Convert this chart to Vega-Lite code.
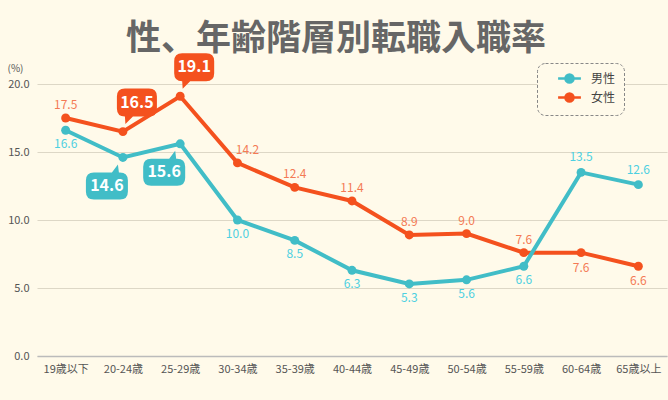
{
  "$schema": "https://vega.github.io/schema/vega-lite/v6.json",
  "width": 630,
  "height": 272,
  "autosize": {"type": "none"},
  "padding": {"left": 37, "top": 84, "right": 1, "bottom": 44},
  "background": "#fffaea",
  "title": {
    "text": "性、年齢階層別転職入職率",
    "anchor": "middle",
    "dx": -16,
    "offset": -4,
    "fontSize": 35,
    "fontWeight": "bold",
    "color": "#666666",
    "font": "Noto Sans CJK JP"
  },
  "config": {
    "font": "Noto Sans CJK JP",
    "view": {"stroke": null}
  },
  "data": {
    "values": [
      {"age": "19歳以下", "sex": "女性", "value": 17.5},
      {"age": "20-24歳", "sex": "女性", "value": 16.5},
      {"age": "25-29歳", "sex": "女性", "value": 19.1},
      {"age": "30-34歳", "sex": "女性", "value": 14.2},
      {"age": "35-39歳", "sex": "女性", "value": 12.4},
      {"age": "40-44歳", "sex": "女性", "value": 11.4},
      {"age": "45-49歳", "sex": "女性", "value": 8.9},
      {"age": "50-54歳", "sex": "女性", "value": 9.0},
      {"age": "55-59歳", "sex": "女性", "value": 7.6},
      {"age": "60-64歳", "sex": "女性", "value": 7.6},
      {"age": "65歳以上", "sex": "女性", "value": 6.6},
      {"age": "19歳以下", "sex": "男性", "value": 16.6},
      {"age": "20-24歳", "sex": "男性", "value": 14.6},
      {"age": "25-29歳", "sex": "男性", "value": 15.6},
      {"age": "30-34歳", "sex": "男性", "value": 10.0},
      {"age": "35-39歳", "sex": "男性", "value": 8.5},
      {"age": "40-44歳", "sex": "男性", "value": 6.3},
      {"age": "45-49歳", "sex": "男性", "value": 5.3},
      {"age": "50-54歳", "sex": "男性", "value": 5.6},
      {"age": "55-59歳", "sex": "男性", "value": 6.6},
      {"age": "60-64歳", "sex": "男性", "value": 13.5},
      {"age": "65歳以上", "sex": "男性", "value": 12.6}
    ]
  },
  "encoding": {
    "x": {
      "field": "age",
      "type": "nominal",
      "sort": null,
      "scale": {"type": "point", "padding": 0.5, "domain": ["19歳以下", "20-24歳", "25-29歳", "30-34歳", "35-39歳", "40-44歳", "45-49歳", "50-54歳", "55-59歳", "60-64歳", "65歳以上"]},
      "axis": {
        "title": null,
        "labelAngle": 0,
        "ticks": false,
        "grid": false,
        "domainColor": "#bbbbbb",
        "domainWidth": 1.5,
        "labelFontSize": 11,
        "labelColor": "#555555",
        "labelPadding": 7
      }
    },
    "y": {
      "field": "value",
      "type": "quantitative",
      "scale": {"domain": [0, 20], "nice": false},
      "axis": {
        "title": "(%)",
        "titleAngle": 0,
        "titleX": -30,
        "titleY": -16,
        "titleAlign": "left",
        "titleBaseline": "middle",
        "titleFontSize": 10,
        "titleFontWeight": "normal",
        "titleColor": "#555555",
        "values": [0, 5, 10, 15, 20],
        "format": ".1f",
        "labelFontSize": 11,
        "labelColor": "#555555",
        "labelPadding": 8,
        "ticks": false,
        "domain": false,
        "gridColor": "#ddd7c6",
        "gridWidth": 1
      }
    }
  },
  "layer": [
    {
      "encoding": {
        "color": {
          "field": "sex",
          "type": "nominal",
          "scale": {"domain": ["男性", "女性"], "range": ["#41bdc7", "#f4511e"]},
          "legend": {
            "orient": "none",
            "legendX": 500,
            "legendY": -21,
            "title": null,
            "symbolType": "M -1.9 0 L -0.67 0 A 0.67 0.67 0 1 1 0.67 0 L 1.9 0 M 0.67 0 A 0.67 0.67 0 1 1 -0.67 0",
            "symbolSize": 144,
            "symbolStrokeWidth": 2.5,
            "symbolOffset": 17,
            "labelOffset": 14,
            "padding": 8,
            "rowPadding": 0,
            "strokeColor": "#888888",
            "cornerRadius": 8,
            "fillColor": "#fffaea",
            "labelFontSize": 12,
            "labelColor": "#444444",
            "encode": {
              "legend": {
                "update": {
                  "strokeDash": {"value": [3, 2]}
                }
              },
              "symbols": {
                "update": {
                  "fill": {"scale": "color", "field": "value"},
                  "stroke": {"scale": "color", "field": "value"},
                  "opacity": {"value": 1}
                }
              }
            }
          }
        }
      },
      "layer": [
        {"mark": {"type": "line", "strokeWidth": 4}},
        {"mark": {"type": "point", "filled": true, "size": 80, "opacity": 1}}
      ]
    },
    {
      "transform": [
        {"filter": "datum.sex == '男性'"},
        {"filter": {"field": "age", "oneOf": ["19歳以下", "30-34歳", "35-39歳", "40-44歳", "45-49歳", "50-54歳", "55-59歳"]}}
      ],
      "mark": {"type": "text", "dy": 14, "fontSize": 12, "color": "#4dd0e1", "baseline": "middle"},
      "encoding": {"text": {"field": "value", "type": "quantitative", "format": ".1f"}}
    },
    {
      "transform": [
        {"filter": "datum.sex == '男性'"},
        {"filter": {"field": "age", "oneOf": ["60-64歳", "65歳以上"]}}
      ],
      "mark": {"type": "text", "dy": -15, "fontSize": 12, "color": "#4dd0e1", "baseline": "middle"},
      "encoding": {"text": {"field": "value", "type": "quantitative", "format": ".1f"}}
    },
    {
      "transform": [
        {"filter": "datum.sex == '女性'"},
        {"filter": {"field": "age", "oneOf": ["19歳以下", "35-39歳", "40-44歳", "45-49歳", "50-54歳", "55-59歳"]}}
      ],
      "mark": {"type": "text", "dy": -13, "fontSize": 12, "color": "#f47a55", "baseline": "middle"},
      "encoding": {"text": {"field": "value", "type": "quantitative", "format": ".1f"}}
    },
    {
      "transform": [
        {"filter": "datum.sex == '女性'"},
        {"filter": {"field": "age", "oneOf": ["30-34歳"]}}
      ],
      "mark": {"type": "text", "dy": -13, "dx": 10, "fontSize": 12, "color": "#f47a55", "baseline": "middle"},
      "encoding": {"text": {"field": "value", "type": "quantitative", "format": ".1f"}}
    },
    {
      "transform": [
        {"filter": "datum.sex == '女性'"},
        {"filter": {"field": "age", "oneOf": ["60-64歳", "65歳以上"]}}
      ],
      "mark": {"type": "text", "dy": 15, "fontSize": 12, "color": "#f47a55", "baseline": "middle"},
      "encoding": {"text": {"field": "value", "type": "quantitative", "format": ".1f"}}
    },
    {
      "transform": [
        {"filter": "datum.sex == '女性'"},
        {"filter": {"field": "age", "oneOf": ["20-24歳", "25-29歳"]}}
      ],
      "mark": {
        "type": "point",
        "filled": true,
        "opacity": 1,
        "size": 400,
        "strokeWidth": 0,
        "color": "#f4511e",
        "shape": "M 0.2 -4.3 L 2.6 -4.3 Q 3.4 -4.3 3.4 -3.5 L 3.4 -2.3 Q 3.4 -1.5 2.6 -1.5 L 1.0 -1.5 L 0.25 -0.75 L 0.2 -1.5 Q -0.6 -1.5 -0.6 -2.3 L -0.6 -3.5 Q -0.6 -4.3 0.2 -4.3 Z"
      }
    },
    {
      "transform": [
        {"filter": "datum.sex == '女性'"},
        {"filter": {"field": "age", "oneOf": ["20-24歳", "25-29歳"]}}
      ],
      "mark": {"type": "text", "dx": 14, "dy": -29, "fontSize": 16, "fontWeight": "bold", "color": "#ffffff", "baseline": "middle"},
      "encoding": {"text": {"field": "value", "type": "quantitative", "format": ".1f"}}
    },
    {
      "transform": [
        {"filter": "datum.sex == '男性'"},
        {"filter": {"field": "age", "oneOf": ["20-24歳", "25-29歳"]}}
      ],
      "mark": {
        "type": "point",
        "filled": true,
        "opacity": 1,
        "size": 400,
        "strokeWidth": 0,
        "color": "#41bdc7",
        "shape": "M -2.9 1.5 L -1.1 1.5 L -0.5 0.7 L -0.4 1.5 L -0.3 1.5 Q 0.5 1.5 0.5 2.3 L 0.5 3.4 Q 0.5 4.2 -0.3 4.2 L -2.9 4.2 Q -3.7 4.2 -3.7 3.4 L -3.7 2.3 Q -3.7 1.5 -2.9 1.5 Z"
      }
    },
    {
      "transform": [
        {"filter": "datum.sex == '男性'"},
        {"filter": {"field": "age", "oneOf": ["20-24歳", "25-29歳"]}}
      ],
      "mark": {"type": "text", "dx": -16, "dy": 28.5, "fontSize": 16, "fontWeight": "bold", "color": "#ffffff", "baseline": "middle"},
      "encoding": {"text": {"field": "value", "type": "quantitative", "format": ".1f"}}
    }
  ]
}
